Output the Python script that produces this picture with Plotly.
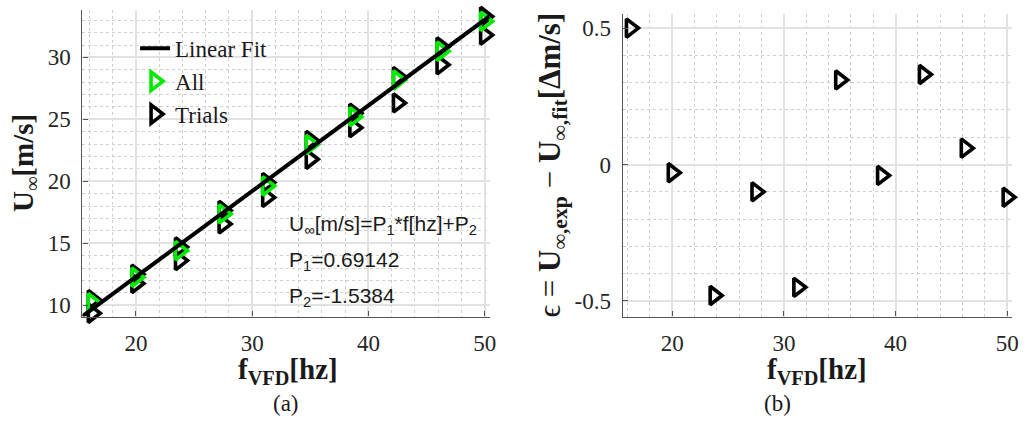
import plotly.graph_objects as go

# Wind-tunnel calibration: free-stream speed vs. VFD drive frequency
freq_hz = [16.25, 20.0, 23.75, 27.5, 31.25, 35.0, 38.75, 42.5, 46.25, 50.0]
u_all = [10.20, 12.26, 14.40, 17.37, 19.62, 22.97, 25.22, 28.18, 30.50, 32.91]
u_trial_hi = [10.45, 12.50, 14.70, 17.65, 19.90, 23.30, 25.50, 28.45, 30.85, 33.30]
u_trial_lo = [9.35, 11.75, 13.60, 16.56, 18.70, 21.78, 24.33, 26.33, 29.41, 31.80]
residual = [0.50, -0.03, -0.48, -0.10, -0.45, 0.31, -0.04, 0.33, 0.06, -0.12]

P1 = 0.69142
P2 = -1.5384

res_ticks = [-0.5, 0, 0.5]
res_tick_text = ["-0.5", "0", "0.5"]

W, H = 1029, 424
XL_RANGE = [15.40, 50.43]
YL_RANGE = [9.09, 33.83]
XR_RANGE = [15.56, 50.44]
YR_RANGE = [-0.557, 0.552]

GREEN = "rgb(0,235,0)"
SERIF = "Times New Roman, Liberation Serif, serif"
SANS = "Arial, Liberation Sans, sans-serif"


def px(x):
    return x / W


def py(y):
    return 1 - y / H


fig = go.Figure()

marker_common = dict(symbol="triangle-right-open", size=16, line=dict(width=3.6))

fig.add_trace(go.Scatter(
    x=freq_hz + freq_hz, y=u_trial_hi + u_trial_lo, mode="markers", name="Trials",
    marker=dict(color="black", **marker_common), cliponaxis=False,
    xaxis="x", yaxis="y", legendrank=3,
))
fig.add_trace(go.Scatter(
    x=freq_hz, y=u_all, mode="markers", name="All",
    marker=dict(color=GREEN, **marker_common), cliponaxis=False,
    xaxis="x", yaxis="y", legendrank=2,
))
fit_x = list(XL_RANGE)
fit_y = [P1 * f + P2 for f in fit_x]
fig.add_trace(go.Scatter(
    x=fit_x, y=fit_y, mode="lines", name="Linear Fit",
    line=dict(color="black", width=4), xaxis="x", yaxis="y", legendrank=1,
))

fig.add_trace(go.Scatter(
    x=freq_hz, y=residual, mode="markers", showlegend=False,
    marker=dict(color="black", **marker_common), cliponaxis=False,
    xaxis="x2", yaxis="y2",
))

axis_common = dict(
    showline=True, linecolor="#555555", linewidth=1.2,
    ticks="inside", ticklen=5, tickcolor="#555555",
    showgrid=True, gridcolor="#e2e2e2", gridwidth=1.6, zeroline=False,
    tickfont=dict(family=SERIF, size=23, color="#262626"),
    ticklabelstandoff=6,
)
minor_common = dict(showgrid=True, gridcolor="#cfcfcf", griddash="dot", gridwidth=1)

fig.update_layout(
    width=W, height=H,
    margin=dict(l=0, r=0, t=0, b=0),
    paper_bgcolor="white", plot_bgcolor="white",
    xaxis=dict(domain=[px(83), px(493)], range=XL_RANGE, anchor="y",
               tick0=0, dtick=10, minor=dict(tick0=0, dtick=2, **minor_common),
               **axis_common),
    yaxis=dict(domain=[py(318), py(10)], range=YL_RANGE, anchor="x",
               tick0=0, dtick=5, minor=dict(tick0=0, dtick=1, **minor_common),
               **axis_common),
    xaxis2=dict(domain=[px(627), px(1019)], range=XR_RANGE, anchor="y2",
                tick0=0, dtick=10, minor=dict(tick0=0, dtick=2, **minor_common),
                **axis_common),
    yaxis2=dict(domain=[py(318), py(14)], range=YR_RANGE, anchor="x2",
                tickvals=res_ticks, ticktext=res_tick_text,
                minor=dict(tick0=0, dtick=0.1, **minor_common),
                **axis_common),
    legend=dict(
        x=px(136), y=py(27), xanchor="left", yanchor="top",
        bgcolor="rgba(0,0,0,0)", borderwidth=0,
        font=dict(family=SERIF, size=23, color="#1a1a1a"),
        tracegroupgap=0, itemwidth=30,
    ),
)

title_font = dict(family=SERIF, size=29, color="#1a1a1a")
eps_font = dict(family=SERIF, size=31, color="#1a1a1a")
label_font = dict(family=SERIF, size=23, color="#1a1a1a")
eq_font = dict(family=SANS, size=21, color="#1a1a1a")
annotations = [
    # axis titles
    dict(x=px(290), y=py(373), text="<b>f<sub>VFD</sub>[hz]</b>", font=title_font),
    dict(x=px(823), y=py(373), text="<b>f<sub>VFD</sub>[hz]</b>", font=title_font),
    dict(x=px(25), y=py(164), text="<b>U</b><sub>∞</sub><b>[m/s]</b>",
         font=title_font, textangle=-90),
    dict(x=px(556), y=py(166),
         text="ϵ = <b>U</b><sub><b>∞,exp</b></sub> − <b>U</b><sub><b>∞,fit</b></sub><b>[Δm/s]</b>",
         font=eps_font, textangle=-90),
    # panel labels
    dict(x=px(288), y=py(405), text="(a)", font=label_font),
    dict(x=px(783), y=py(405), text="(b)", font=label_font),
    # fit equation
    dict(x=px(289), y=py(226), xanchor="left",
         text="U<sub>∞</sub>[m/s]=P<sub>1</sub>*f[hz]+P<sub>2</sub>", font=eq_font),
    dict(x=px(289), y=py(262), xanchor="left",
         text=f"P<sub>1</sub>={P1}", font=eq_font),
    dict(x=px(289), y=py(298), xanchor="left",
         text=f"P<sub>2</sub>={P2}", font=eq_font),
]
for a in annotations:
    a.setdefault("xref", "paper")
    a.setdefault("yref", "paper")
    a.setdefault("xanchor", "center")
    a.setdefault("yanchor", "middle")
    a.setdefault("showarrow", False)
fig.update_layout(annotations=annotations)

fig.write_html("out.html")
